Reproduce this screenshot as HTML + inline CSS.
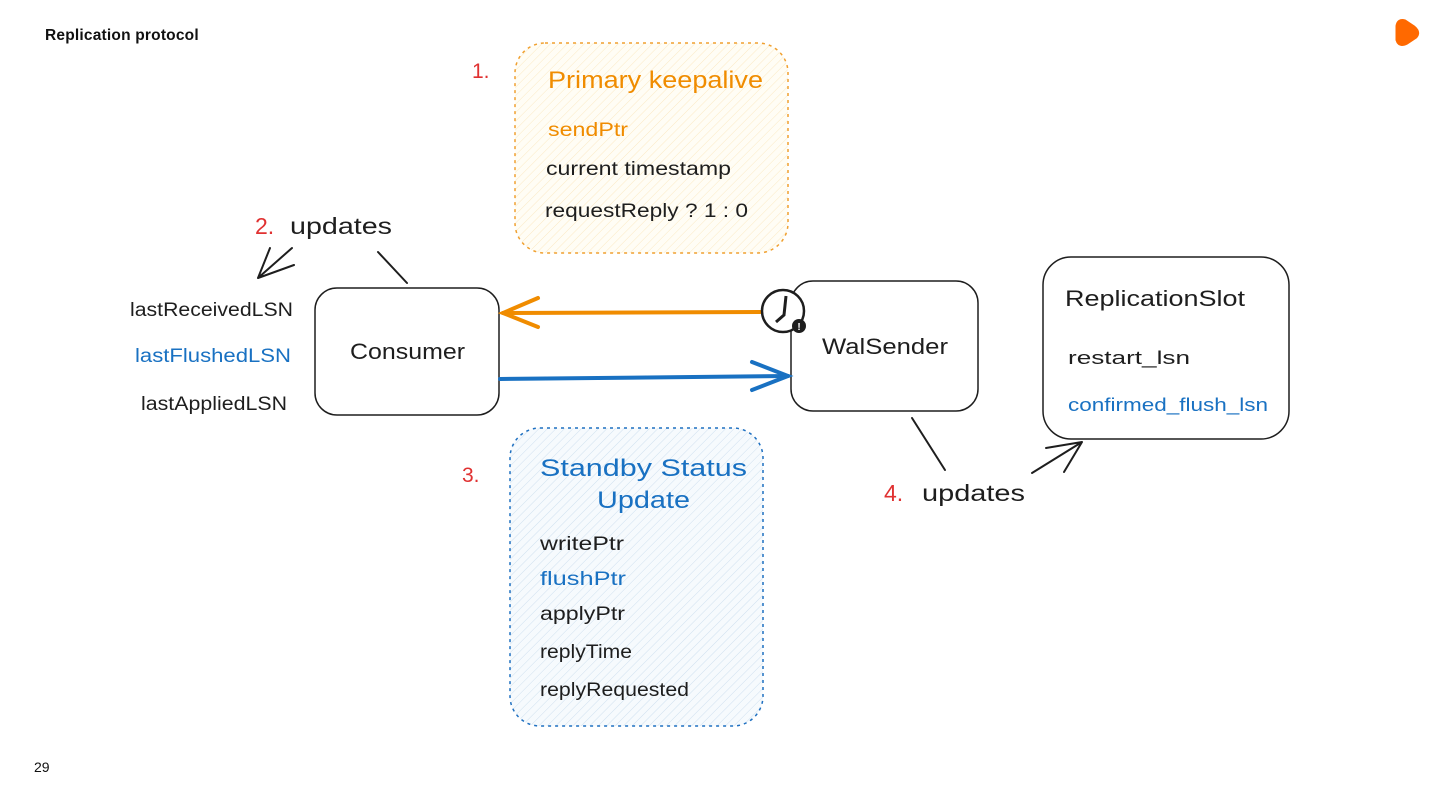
<!DOCTYPE html>
<html><head><meta charset="utf-8"><style>
body{margin:0;width:1440px;height:810px;background:#fff;overflow:hidden;position:relative;font-family:"Liberation Sans",sans-serif}
.t{position:absolute;font-family:"Liberation Sans",sans-serif}
svg{position:absolute;left:0;top:0}
</style></head><body>
<div class="t" style="left:45px;top:27px;font-size:15.5px;font-weight:bold;color:#111;letter-spacing:0.2px">Replication protocol</div>
<div class="t" style="left:34px;top:759px;font-size:14px;color:#111">29</div>
<svg width="1440" height="810" viewBox="0 0 1440 810" font-family="'Liberation Sans',sans-serif">
<defs>
<pattern id="h1" width="6" height="6" patternUnits="userSpaceOnUse" patternTransform="rotate(45)"><rect width="6" height="6" fill="#fffdf5"/><line x1="0" y1="0" x2="0" y2="6" stroke="#fbe9c4" stroke-width="1"/></pattern>
<pattern id="h2" width="6" height="6" patternUnits="userSpaceOnUse" patternTransform="rotate(45)"><rect width="6" height="6" fill="#f6fafd"/><line x1="0" y1="0" x2="0" y2="6" stroke="#cfe0ef" stroke-width="1"/></pattern>
</defs>
<path d="M1397 26 Q1398 19 1405 21 L1414 27 Q1420 32 1416 37 L1407 43 Q1399 47 1397 40 Z" fill="#ff6900" stroke="#ff6900" stroke-width="3" stroke-linejoin="round"/>
<rect x="515" y="43" width="273" height="210" rx="30" fill="url(#h1)" stroke="#f0a030" stroke-width="1.5" stroke-dasharray="3 4"/>
<rect x="510" y="428" width="253" height="298" rx="30" fill="url(#h2)" stroke="#1f70c1" stroke-width="1.5" stroke-dasharray="3 4"/>
<rect x="315" y="288" width="184" height="127" rx="22" fill="#fff" stroke="#1e1e1e" stroke-width="1.5"/>
<rect x="791" y="281" width="187" height="130" rx="22" fill="#fff" stroke="#1e1e1e" stroke-width="1.5"/>
<rect x="1043" y="257" width="246" height="182" rx="28" fill="#fff" stroke="#1e1e1e" stroke-width="1.5"/>
<g fill="none" stroke-linecap="round">
<path d="M760 312 L503 313" stroke="#f08c00" stroke-width="4"/>
<path d="M538 298 L503 313 L538 327" stroke="#f08c00" stroke-width="4"/>
<path d="M500 379 L788 376" stroke="#1971c2" stroke-width="4"/>
<path d="M752 362 L788 376 L752 390" stroke="#1971c2" stroke-width="4"/>
<path d="M407 283 L378 252" stroke="#1e1e1e" stroke-width="2"/>
<path d="M292 248 L258 278 M258 278 L294 265 M258 278 L270 248" stroke="#1e1e1e" stroke-width="2"/>
<path d="M912 418 L945 470" stroke="#1e1e1e" stroke-width="2"/>
<path d="M1032 473 L1082 442 M1082 442 L1046 448 M1082 442 L1064 472" stroke="#1e1e1e" stroke-width="2"/>
</g>
<circle cx="783" cy="311" r="21" fill="#fff" stroke="#1e1e1e" stroke-width="2.5"/>
<path d="M786 296 L784 315 L776 322" fill="none" stroke="#1e1e1e" stroke-width="3"/>
<circle cx="799" cy="326" r="7" fill="#1e1e1e"/>
<text x="799" y="330" font-size="10" font-weight="bold" fill="#fff" text-anchor="middle">!</text>
<g font-size="21" lengthAdjust="spacingAndGlyphs">
<text x="472" y="78" fill="#e03131">1.</text>
<text x="548" y="88" fill="#f08c00" font-size="24" textLength="215" lengthAdjust="spacingAndGlyphs">Primary keepalive</text>
<text x="548" y="136" fill="#f08c00" font-size="19" textLength="80" lengthAdjust="spacingAndGlyphs">sendPtr</text>
<text x="546" y="175" fill="#1e1e1e" font-size="19" textLength="185" lengthAdjust="spacingAndGlyphs">current timestamp</text>
<text x="545" y="217" fill="#1e1e1e" font-size="19" textLength="203" lengthAdjust="spacingAndGlyphs">requestReply ? 1 : 0</text>
<text x="255" y="234" fill="#e03131" font-size="23">2.</text>
<text x="290" y="234" fill="#1e1e1e" font-size="23" textLength="102" lengthAdjust="spacingAndGlyphs">updates</text>
<text x="130" y="316" fill="#1e1e1e" font-size="19" textLength="163" lengthAdjust="spacingAndGlyphs">lastReceivedLSN</text>
<text x="135" y="362" fill="#1971c2" font-size="19" textLength="156" lengthAdjust="spacingAndGlyphs">lastFlushedLSN</text>
<text x="141" y="410" fill="#1e1e1e" font-size="19" textLength="146" lengthAdjust="spacingAndGlyphs">lastAppliedLSN</text>
<text x="350" y="359" fill="#1e1e1e" font-size="22" textLength="115" lengthAdjust="spacingAndGlyphs">Consumer</text>
<text x="822" y="354" fill="#1e1e1e" font-size="22" textLength="126" lengthAdjust="spacingAndGlyphs">WalSender</text>
<text x="1065" y="306" fill="#1e1e1e" font-size="22" textLength="180" lengthAdjust="spacingAndGlyphs">ReplicationSlot</text>
<text x="1068" y="364" fill="#1e1e1e" font-size="18" textLength="122" lengthAdjust="spacingAndGlyphs">restart_lsn</text>
<text x="1068" y="411" fill="#1971c2" font-size="18" textLength="200" lengthAdjust="spacingAndGlyphs">confirmed_flush_lsn</text>
<text x="462" y="482" fill="#e03131">3.</text>
<text x="540" y="476" fill="#1971c2" font-size="24" textLength="207" lengthAdjust="spacingAndGlyphs">Standby Status</text>
<text x="597" y="508" fill="#1971c2" font-size="24" textLength="93" lengthAdjust="spacingAndGlyphs">Update</text>
<text x="540" y="550" fill="#1e1e1e" font-size="19" textLength="84" lengthAdjust="spacingAndGlyphs">writePtr</text>
<text x="540" y="585" fill="#1971c2" font-size="19" textLength="86" lengthAdjust="spacingAndGlyphs">flushPtr</text>
<text x="540" y="620" fill="#1e1e1e" font-size="19" textLength="85" lengthAdjust="spacingAndGlyphs">applyPtr</text>
<text x="540" y="658" fill="#1e1e1e" font-size="19" textLength="92" lengthAdjust="spacingAndGlyphs">replyTime</text>
<text x="540" y="696" fill="#1e1e1e" font-size="19" textLength="149" lengthAdjust="spacingAndGlyphs">replyRequested</text>
<text x="884" y="501" fill="#e03131" font-size="23">4.</text>
<text x="922" y="501" fill="#1e1e1e" font-size="23" textLength="103" lengthAdjust="spacingAndGlyphs">updates</text>
</g>
</svg>
</body></html>
